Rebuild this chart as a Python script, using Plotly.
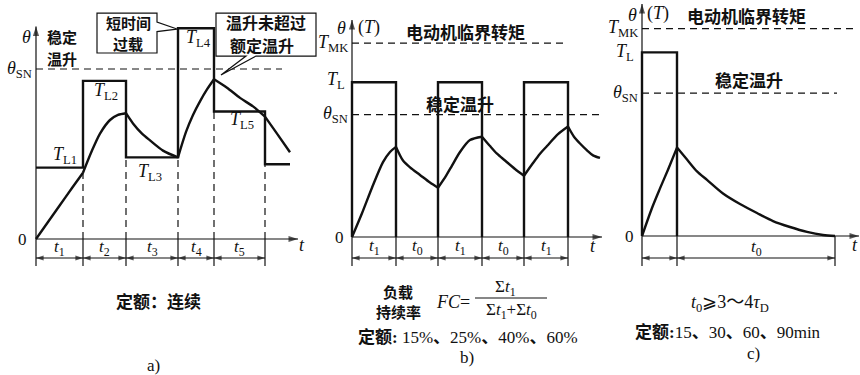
import plotly.graph_objects as go

W, H = 860, 375
SX, SY = 10.0, 1.7          # pixels per time unit, pixels per value unit

SERIF = "Liberation Serif, Noto Sans CJK SC, serif"
HEI = "Noto Sans CJK SC, sans-serif"
INK = "#111111"

# ---------------- a) continuous duty ----------------
a_period_labels = ["1", "2", "3", "4", "5"]
a_durations = [4.7, 4.3, 5.2, 3.6, 5.1]
a_load_labels = ["L1", "L2", "L3", "L4", "L5"]
a_loads = [42, 93, 48, 124, 75, 44]          # T_L1..T_L5, then the load after t5
a_tail = 2.5
a_theta_sn = 100
a_curve_t = [0, 1.2, 2.4, 3.6, 4.7, 5.6, 6.4, 7.4, 8.2, 9.0, 9.7, 10.6, 11.4, 12.7,
             14.2, 15.0, 15.7, 16.4, 17.1, 17.8, 19.1, 20.4, 21.7, 22.9, 24.1, 25.4]
a_curve_theta = [0, 10, 20, 30, 39, 52, 62, 70, 73, 74, 68, 62, 58, 52,
                 48, 63, 73, 81, 88, 94, 89, 83, 78, 72, 62, 51]

# ---------------- b) intermittent periodic duty ----------------
b_period_labels = ["1", "0", "1", "0", "1"]
b_durations = [4.4, 4.2, 4.4, 4.2, 4.4]
b_on = [True, False, True, False, True]
b_load = 91
b_theta_sn = 72
b_t_mk = 114
b_curve_t = [0, 1.0, 2.0, 3.1, 3.8, 4.4, 5.1, 5.8, 6.8, 7.8, 8.6, 9.4, 10.0, 10.8, 11.8,
             13.0, 13.8, 14.5, 15.3, 16.3, 17.2, 18.1, 18.8, 19.5, 20.6, 21.6, 22.2,
             22.8, 23.5, 24.1, 24.8]
b_curve_theta = [0, 14, 29, 44, 50, 53, 45, 41, 36.5, 32, 29, 36, 42, 50, 57,
                 59, 53.5, 49, 45, 40, 36, 43.5, 49, 53.5, 60.5, 65, 59,
                 55, 51, 48, 46.5]

# ---------------- c) short-time duty ----------------
c_durations = [3.5, 15.8]
c_load = 108
c_theta_sn = 84
c_t_mk = 122
c_curve_t = [0, 1.0, 1.8, 2.6, 3.5, 4.5, 5.5, 6.5, 8.1, 9.8, 11.5, 13.1, 14.8, 16.5, 18.1, 19.3]
c_curve_theta = [0, 16.5, 28, 39, 52, 45, 38, 33, 25, 18.8, 13.5, 8.8, 5.3, 2.4, 0.6, 0]

# panel origins on the canvas and their axis ids
PANELS = {
    "a": dict(origin=(36, 239), x="x", y="y"),
    "b": dict(origin=(352, 237), x="x2", y="y2"),
    "c": dict(origin=(642, 236), x="x3", y="y3"),
}
DASH = "7px,5px"
STYLES = {
    "thick": dict(width=2.4),
    "curve": dict(width=2.4, shape="spline", smoothing=0.8),
    "thin": dict(width=1.2),
    "dash": dict(width=1.2, dash=DASH),
}

fig = go.Figure()
pens = {}     # (panel, style) -> ([x...], [y...]) polylines separated by None
tips = {}     # panel -> ([x], [y], [angle], [size])


def px_y(p, py):
    """value coordinate of a canvas row in panel p"""
    return (PANELS[p]["origin"][1] - py) / SY


def seg(p, style, xs, ys):
    bx, by = pens.setdefault((p, style), ([], []))
    if bx:
        bx.append(None)
        by.append(None)
    bx.extend(xs)
    by.extend(ys)


def head(p, x, y, angle, size):
    hx, hy, ha, hs = tips.setdefault(p, ([], [], [], []))
    hx.append(x)
    hy.append(y)
    ha.append(angle)
    hs.append(size)


def text(p, x, y, s, size=16, family=SERIF, xanchor="center", yanchor="middle"):
    fig.add_annotation(
        x=x, y=y, xref=PANELS[p]["x"], yref=PANELS[p]["y"], text=s, showarrow=False,
        font=dict(family=family, size=size, color=INK),
        xanchor=xanchor, yanchor=yanchor)


def curve(p, ts, vs, breaks):
    """heating/cooling curve as smooth pieces split at the load changes"""
    idx = [0] + [min(range(len(ts)), key=lambda i: abs(ts[i] - b)) for b in breaks] + [len(ts) - 1]
    idx = sorted(set(idx))
    for i0, i1 in zip(idx[:-1], idx[1:]):
        seg(p, "curve", ts[i0:i1 + 1], vs[i0:i1 + 1])


def bounds(durations):
    out = [0.0]
    for d in durations:
        out.append(round(out[-1] + d, 4))
    return out


def frame(p, x_tip, y_tip, bnds, dim_px=258, tick_px=266):
    y_bot = px_y(p, tick_px)
    y_dim = px_y(p, dim_px)
    # axes with arrow heads
    seg(p, "thin", [0, 0], [y_bot, y_tip])
    seg(p, "thin", [0, x_tip], [0, 0])
    head(p, 0, y_tip, 0, 10)
    head(p, x_tip, 0, 90, 10)
    # dimension ticks and double arrows
    for b in bnds[1:]:
        seg(p, "thin", [b, b], [0, y_bot])
    seg(p, "thin", [bnds[0], bnds[-1]], [y_dim, y_dim])
    for b0, b1 in zip(bnds[:-1], bnds[1:]):
        head(p, b0, y_dim, -90, 8)
        head(p, b1, y_dim, 90, 8)


def stacked(p, x, y_px_top, lines, size, gap_px):
    for k, s in enumerate(lines):
        text(p, x, px_y(p, y_px_top + k * gap_px), s, size=size, family=HEI)


# ===================== panel a =====================
ab = bounds(a_durations)
a_end = ab[-1] + a_tail
xs, ys = [0], [a_loads[0]]
for i, b in enumerate(ab[1:]):
    xs += [b, b]
    ys += [a_loads[i], a_loads[i + 1]]
xs.append(a_end)
ys.append(a_loads[-1])
seg("a", "thick", xs, ys)
for i, b in enumerate(ab[1:]):
    seg("a", "dash", [b, b], [0, min(a_loads[i], a_loads[i + 1])])
seg("a", "dash", [0, 24.6], [a_theta_sn, a_theta_sn])
curve("a", a_curve_t, a_curve_theta, ab[1:])
frame("a", 26.2, 125, ab)

for i, lab in enumerate(a_period_labels):
    text("a", (ab[i] + ab[i + 1]) / 2, px_y("a", 248), f"<i>t</i><sub>{lab}</sub>", size=17)
load_pos = [(2.9, 49), (7.0, 86.5), (11.4, 39.4), (16.2, 118), (20.6, 70)]
for (x, y), lab in zip(load_pos, a_load_labels):
    text("a", x, y, f"<i>T</i><sub>{lab}</sub>", size=18)
text("a", -0.2, a_theta_sn, "<i>θ</i><sub>SN</sub>", size=18, xanchor="right")
text("a", -0.7, 0, "0", size=17, xanchor="right")
text("a", -1.0, 119, "<i>θ</i>", size=18)
stacked("a", 2.6, 36, ["<b>稳定</b>", "<b>温升</b>"], 15, 22)
text("a", 26.6, -3.5, "<i>t</i>", size=18)
text("a", 12.2, px_y("a", 300), "<b>定额：连续</b>", size=17, family=HEI)
text("a", 11.7, px_y("a", 365), "a)", size=17, family=SERIF)

# call-out boxes
fig.add_shape(type="path", xref="x", yref="y", layer="above",
              path="M 6.1,132.9 L 12.1,132.9 L 12.1,127.6 L 14.1,123.5 L 12.1,122.0 "
                   "L 12.1,109.4 L 6.1,109.4 Z",
              line=dict(color=INK, width=1.2), fillcolor="white")
stacked("a", 9.2, 22, ["<b>短时间</b>", "<b>过载</b>"], 15, 21.5)
fig.add_shape(type="path", xref="x", yref="y", layer="above",
              path="M 18.0,132.9 L 28.0,132.9 L 28.0,107.6 L 22.0,107.6 L 18.5,96.5 "
                   "L 21.0,107.6 L 18.0,107.6 Z",
              line=dict(color=INK, width=1.2), fillcolor="white")
text("a", 23.0, px_y("a", 21.5), "<b>温升未超过</b>", size=16, family=HEI)
text("a", 22.6, px_y("a", 44.5), "<b>额定温升</b>", size=16, family=HEI)

# ===================== panel b =====================
bb = bounds(b_durations)
for i, on in enumerate(b_on):
    if on:
        seg("b", "thick", [bb[i], bb[i], bb[i + 1], bb[i + 1]], [0, b_load, b_load, 0])
seg("b", "dash", [0, 24.8], [b_theta_sn, b_theta_sn])
seg("b", "dash", [0, 21.3], [b_t_mk, b_t_mk])
curve("b", b_curve_t, b_curve_theta, bb[1:])
frame("b", 25.0, 127.6, bb)

for i, lab in enumerate(b_period_labels):
    text("b", (bb[i] + bb[i + 1]) / 2, px_y("b", 247), f"<i>t</i><sub>{lab}</sub>", size=17)
text("b", -0.5, b_load + 1, "<i>T</i><sub>L</sub>", size=18, xanchor="right")
text("b", -0.2, b_theta_sn, "<i>θ</i><sub>SN</sub>", size=18, xanchor="right")
text("b", -0.2, b_t_mk, "<i>T</i><sub>MK</sub>", size=18, xanchor="right")
text("b", -0.6, 0, "0", size=17, xanchor="right")
text("b", -1.1, 123, "<i>θ</i>", size=18)
text("b", 1.7, 123.5, "(<i>T</i>)", size=18)
text("b", 11.3, 120.6, "<b>电动机临界转矩</b>", size=17, family=HEI)
text("b", 10.8, 78.8, "<b>稳定温升</b>", size=17, family=HEI)
text("b", 24.1, -5.5, "<i>t</i>", size=18)
stacked("b", 4.6, 291, ["<b>负载</b>", "<b>持续率</b>"], 15, 20)
text("b", 10.1, px_y("b", 302), "<i>FC</i>=", size=18)
text("b", 15.3, px_y("b", 288), "Σ<i>t</i><sub>1</sub>", size=17)
seg("b", "thin", [12.3, 19.5], [px_y("b", 298)] * 2)
text("b", 15.9, px_y("b", 311), "Σ<i>t</i><sub>1</sub>+Σ<i>t</i><sub>0</sub>", size=17)
text("b", 11.6, px_y("b", 337), "<b>定额:</b> 15%<b>、</b>25%<b>、</b>40%<b>、</b>60%", size=17)
text("b", 11.5, px_y("b", 357), "b)", size=17)

# ===================== panel c =====================
cb = bounds(c_durations)
seg("c", "thick", [0, 0, cb[1], cb[1]], [0, c_load, c_load, 0])
seg("c", "dash", [0, 19.5], [c_theta_sn, c_theta_sn])
seg("c", "dash", [0, 21.5], [c_t_mk, c_t_mk])
curve("c", c_curve_t, c_curve_theta, cb[1:2])
frame("c", 21.7, 136.5, cb)

text("c", (cb[1] + cb[2]) / 2, px_y("c", 248), "<i>t</i><sub>0</sub>", size=17)
text("c", -0.6, c_load, "<i>T</i><sub>L</sub>", size=18, xanchor="right")
text("c", -0.2, c_theta_sn, "<i>θ</i><sub>SN</sub>", size=18, xanchor="right")
text("c", -0.2, c_t_mk, "<i>T</i><sub>MK</sub>", size=18, xanchor="right")
text("c", -0.6, 0, "0", size=17, xanchor="right")
text("c", -1.0, 130, "<i>θ</i>", size=18)
text("c", 1.6, 130.6, "(<i>T</i>)", size=18)
text("c", 10.4, 130, "<b>电动机临界转矩</b>", size=17, family=HEI)
text("c", 10.7, 91.8, "<b>稳定温升</b>", size=17, family=HEI)
text("c", 21.3, -5.3, "<i>t</i>", size=18)
text("c", 8.8, px_y("c", 303), "<i>t</i><sub>0</sub>⩾3～4<i>τ</i><sub>D</sub>", size=18)
text("c", 8.6, px_y("c", 332), "<b>定额:</b>15<b>、</b>30<b>、</b>60<b>、</b>90min", size=17)
text("c", 11.1, px_y("c", 353), "c)", size=17)

# ---------------- emit the collected line work ----------------
for (p, style), (xs, ys) in pens.items():
    fig.add_trace(go.Scatter(
        x=xs, y=ys, mode="lines", line=dict(color=INK, **STYLES[style]),
        xaxis=PANELS[p]["x"], yaxis=PANELS[p]["y"],
        hoverinfo="skip", showlegend=False))
for p, (hx, hy, ha, hs) in tips.items():
    fig.add_trace(go.Scatter(
        x=hx, y=hy, mode="markers",
        marker=dict(symbol="arrow", size=hs, angle=ha, color=INK, line=dict(width=0)),
        xaxis=PANELS[p]["x"], yaxis=PANELS[p]["y"],
        hoverinfo="skip", showlegend=False))

# ---------------- axes: one invisible pair per panel ----------------
layout_axes = {}
for k, p in PANELS.items():
    ox, oy = p["origin"]
    xr = [-ox / SX, (W - ox) / SX]
    yr = [(oy - H) / SY, oy / SY]
    xname = "xaxis" if p["x"] == "x" else "xaxis" + p["x"][1:]
    yname = "yaxis" if p["y"] == "y" else "yaxis" + p["y"][1:]
    ax = dict(range=xr, visible=False, fixedrange=True, domain=[0, 1])
    ay = dict(range=yr, visible=False, fixedrange=True, domain=[0, 1])
    if p["x"] != "x":
        ax.update(overlaying="x", anchor=p["y"])
        ay.update(overlaying="y", anchor=p["x"])
    layout_axes[xname] = ax
    layout_axes[yname] = ay

fig.update_layout(
    width=W, height=H, margin=dict(l=0, r=0, t=0, b=0),
    paper_bgcolor="white", plot_bgcolor="white", showlegend=False,
    **layout_axes)

fig.write_html("out.html", config={"displayModeBar": False})
